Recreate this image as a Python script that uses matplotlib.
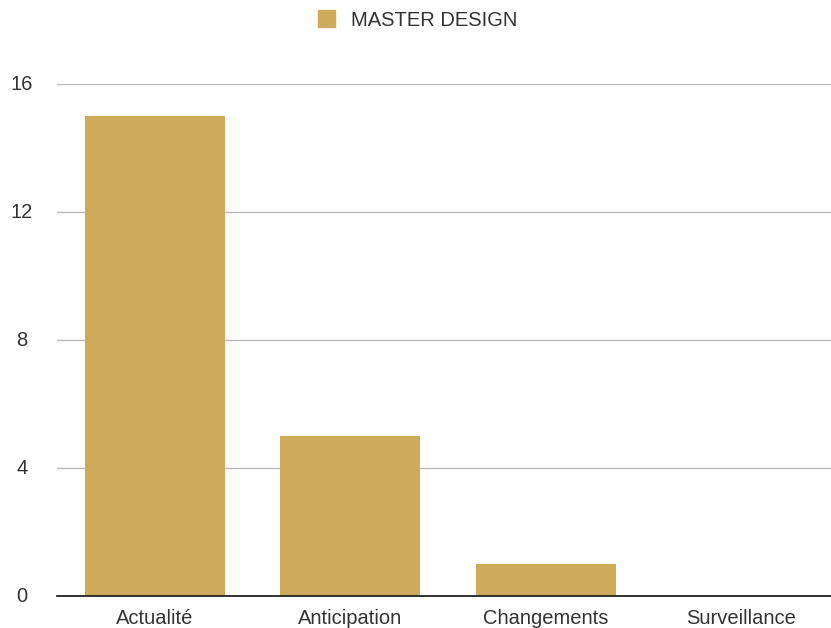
import matplotlib
matplotlib.use('Agg')
import matplotlib.pyplot as plt
import matplotlib.transforms as mtransforms
from matplotlib.patches import Patch

categories = ['Actualité', 'Anticipation', 'Changements', 'Surveillance']
values = [15, 5, 1, 0]
series_name = 'MASTER DESIGN'
yticks = [0, 4, 8, 12, 16]

bar_color = '#CFAA5A'
text_color = '#333333'

plt.rcParams['font.family'] = ['Liberation Sans', 'DejaVu Sans']

fig = plt.figure(figsize=(8.31, 6.28), dpi=100)
ax = fig.add_axes([57 / 831, 32 / 628, 1 - 57 / 831, 512 / 628])

x = list(range(len(categories)))
ax.bar(x, values, width=0.716, color=bar_color, zorder=3)

ax.set_xlim(-0.5, -0.5 + 774 / 195.5)
ax.set_ylim(0, 16)
ax.set_yticks(yticks)
ax.set_yticklabels([])
ax.set_xticks(x)
ax.set_xticklabels(categories, fontsize=14.5, color=text_color)
ax.tick_params(axis='both', length=0)
ax.tick_params(axis='x', pad=9)

# y labels centred in the left margin
trans = mtransforms.blended_transform_factory(fig.transFigure, ax.transData)
for t in yticks:
    ax.text(22 / 831, t, str(t), transform=trans, ha='center', va='center',
            fontsize=14.5, color=text_color)

ax.grid(axis='y', color='#BBBBBB', linewidth=1, zorder=0)
ax.set_axisbelow(True)
for s in ['top', 'right', 'left']:
    ax.spines[s].set_visible(False)
ax.spines['bottom'].set_color('#222222')
ax.spines['bottom'].set_linewidth(1.3)
ax.spines['bottom'].set_zorder(4)

handle = Patch(facecolor=bar_color, edgecolor=bar_color)
fig.legend([handle], [series_name], loc='center', bbox_to_anchor=(418 / 831, 1 - 20 / 628),
           frameon=False, fontsize=14.5, handlelength=0.85, handleheight=0.85,
           handletextpad=0.8, labelcolor=text_color)

fig.savefig('out.png', dpi=100)
